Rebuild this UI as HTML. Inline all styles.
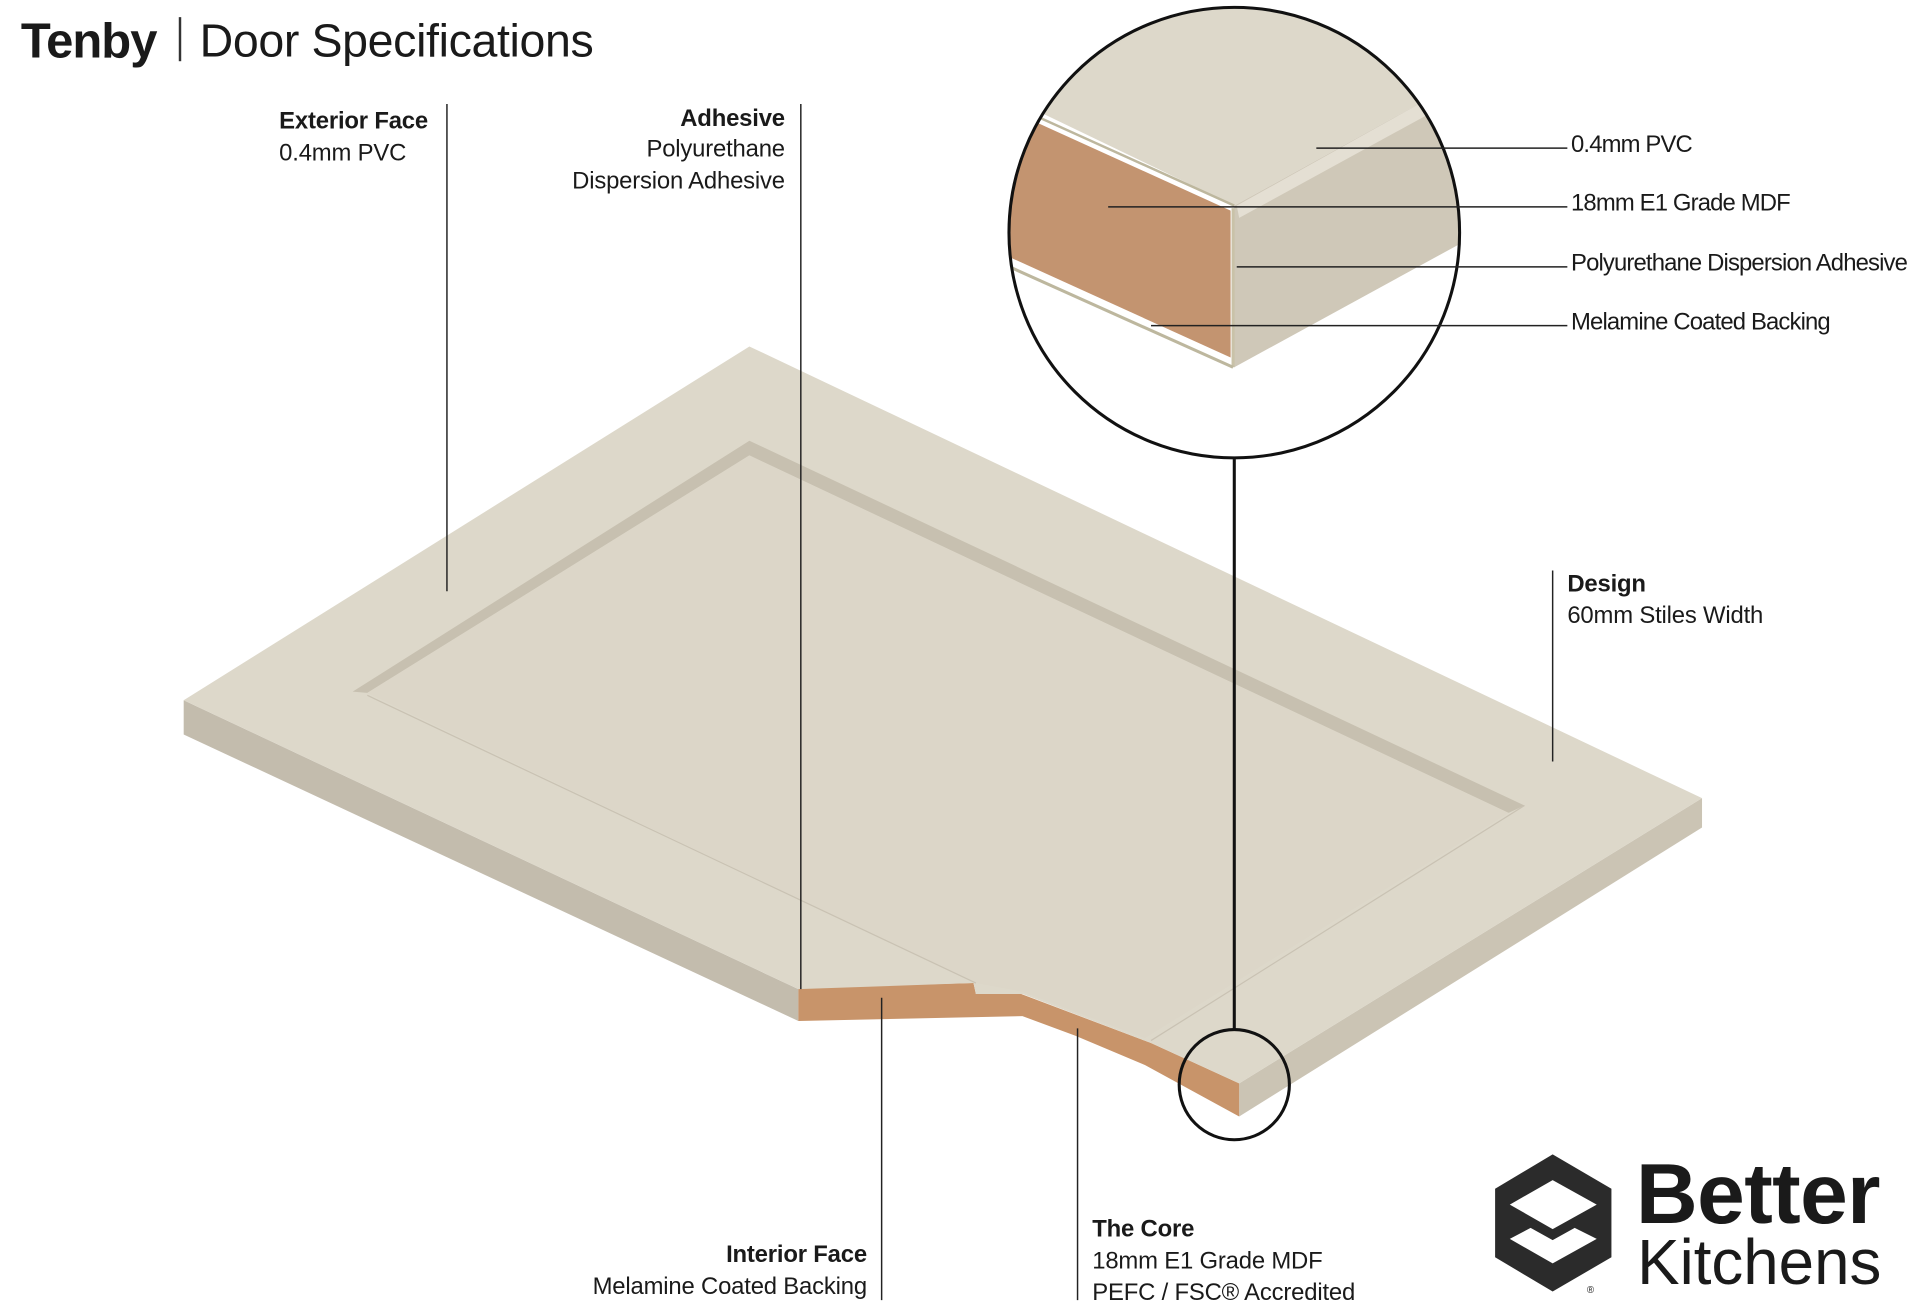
<!DOCTYPE html>
<html><head><meta charset="utf-8"><style>
html,body{margin:0;padding:0;background:#fff;}
svg{display:block;}
text{font-family:"Liberation Sans",sans-serif;fill:#1a1a1a;}
.lb{font-size:19.5px;letter-spacing:-0.15px;}
.r{letter-spacing:-0.7px;}
.b{font-weight:bold;}
</style></head><body>
<svg width="1920" height="1305" viewBox="0 0 1568 1066" preserveAspectRatio="none" xmlns="http://www.w3.org/2000/svg">
<defs>
<clipPath id="cc"><circle cx="1008" cy="190" r="184"/></clipPath>
</defs>
<!-- title -->
<text x="17" y="47" font-size="40" font-weight="bold" letter-spacing="-0.8">Tenby</text>
<rect x="146" y="14" width="2" height="36" fill="#333"/>
<text x="163" y="46" font-size="38" letter-spacing="-0.3" fill="#333">Door Specifications</text>

<!-- door -->
<polygon points="150,572 652,808 652,834 150,600" fill="#c3bcad"/>
<polygon points="1012,885 1390,652 1390,676 1012,912" fill="#cbc4b4"/>
<polygon points="652,807 795,803 797,812 834,812 940,852 1012,885 1012,912 935,870 878,846 835,830 652,834" fill="#c8946a"/>
<polygon points="150,572 612,283 1390,652 1012,885 940,852 835,812 797,812 795,803 652,808" fill="#ddd8ca"/>
<!-- panel groove -->
<polygon points="612,360 1245,658 1232,664 612,372 300,566 288,565" fill="#c7c0b0"/>
<polygon points="612,372 1232,664 935,848 835,810 797,803 300,566" fill="#dcd6c8"/>
<line x1="300" y1="568" x2="797" y2="803" stroke="#c9c2b3" stroke-width="1"/>
<line x1="1245" y1="658" x2="940" y2="850" stroke="#c9c2b3" stroke-width="1"/>

<!-- big circle detail -->
<g clip-path="url(#cc)">
<rect x="820" y="0" width="380" height="380" fill="#fff"/>
<polygon points="820,0 1200,0 1200,62 1008,168 850,92 820,78" fill="#ddd8ca"/>
<polygon points="1008,168 1200,62 1200,195 1008,300" fill="#cfc8b8"/>
<polygon points="1010,168 1200,62 1200,75 1012,178" fill="#e4dfd3"/>
<polygon points="820,88 1005,172 1005,292 820,208" fill="#c39470"/>
<line x1="820" y1="85" x2="1006" y2="170" stroke="#fff" stroke-width="3"/>
<line x1="820" y1="83" x2="1008" y2="168" stroke="#bdb79e" stroke-width="2"/>
<line x1="1007" y1="170" x2="1007" y2="300" stroke="#c9c2a8" stroke-width="2.5"/>
<line x1="820" y1="212" x2="1005" y2="295" stroke="#fff" stroke-width="3"/>
<line x1="820" y1="216" x2="1007" y2="300" stroke="#bdb79e" stroke-width="2.5"/>
</g>
<circle cx="1008" cy="190" r="184" fill="none" stroke="#111" stroke-width="2.5"/>
<circle cx="1008" cy="886" r="45" fill="none" stroke="#111" stroke-width="2.5"/>
<line x1="1008" y1="375" x2="1008" y2="841" stroke="#111" stroke-width="2.5"/>

<!-- leader lines -->
<g stroke="#222" stroke-width="1.2">
<line x1="365" y1="85" x2="365" y2="483"/>
<line x1="654" y1="85" x2="654" y2="808"/>
<line x1="1268" y1="466" x2="1268" y2="622"/>
<line x1="720" y1="815" x2="720" y2="1062"/>
<line x1="880" y1="840" x2="880" y2="1062"/>
<line x1="1075" y1="121" x2="1280" y2="121"/>
<line x1="905" y1="169" x2="1280" y2="169"/>
<line x1="1010" y1="218" x2="1280" y2="218"/>
<line x1="940" y1="266" x2="1280" y2="266"/>
</g>

<!-- labels -->
<text class="lb b" x="228" y="105">Exterior Face</text>
<text class="lb" x="228" y="131">0.4mm PVC</text>
<text class="lb b" x="641" y="103" text-anchor="end">Adhesive</text>
<text class="lb" x="641" y="128" text-anchor="end">Polyurethane</text>
<text class="lb" x="641" y="154" text-anchor="end">Dispersion Adhesive</text>
<text class="lb r" x="1283" y="124">0.4mm PVC</text>
<text class="lb r" x="1283" y="172">18mm E1 Grade MDF</text>
<text class="lb r" x="1283" y="221">Polyurethane Dispersion Adhesive</text>
<text class="lb r" x="1283" y="269">Melamine Coated Backing</text>
<text class="lb b" x="1280" y="483">Design</text>
<text class="lb" x="1280" y="509">60mm Stiles Width</text>
<text class="lb b" x="708" y="1031" text-anchor="end">Interior Face</text>
<text class="lb" x="708" y="1057" text-anchor="end">Melamine Coated Backing</text>
<text class="lb b" x="892" y="1010">The Core</text>
<text class="lb" x="892" y="1036">18mm E1 Grade MDF</text>
<text class="lb" x="892" y="1062">PEFC / FSC® Accredited</text>

<!-- logo -->
<polygon points="1268,943 1316,971 1316,1027 1268,1055 1221,1027 1221,971" fill="#2b2b2b"/>
<polygon points="1268,964 1304,984 1268,1004 1233,984" fill="#fff"/>
<polygon points="1233,1012 1250,1003 1268,1013 1286,1003 1304,1012 1268,1032" fill="#fff"/>
<text x="1296" y="1056" font-size="8" fill="#2b2b2b">®</text>
<text x="1336" y="999" font-size="70" font-weight="bold" fill="#2b2b2b" letter-spacing="-0.5">Better</text>
<text x="1337" y="1049" font-size="52" fill="#2b2b2b" letter-spacing="0">Kitchens</text>
</svg>
</body></html>
